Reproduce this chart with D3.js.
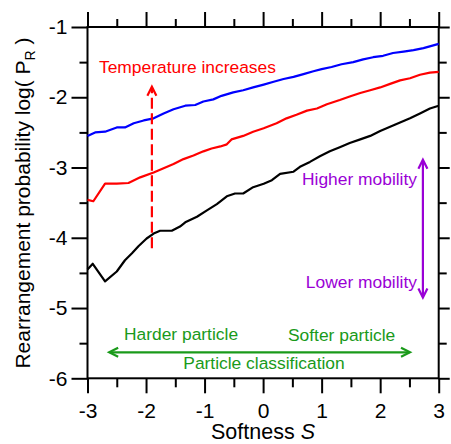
<!DOCTYPE html>
<html>
<head>
<meta charset="utf-8">
<script src="https://cdn.jsdelivr.net/npm/d3@7"></script>
<style>
  html, body { margin: 0; padding: 0; background: #fff; }
  svg { display: block; font-family: "Liberation Sans", Arial, sans-serif; }
</style>
</head>
<body>
<svg id="chart" width="451" height="444"></svg>
<script>
// ---- Data ----
const blueS   = [-3,-2.87,-2.70,-2.50,-2.36,-2.21,-2.04,-1.87,-1.70,-1.53,-1.33,-1.16,-1.02,-0.85,-0.71,-0.51,-0.34,-0.17,0.01,0.18,0.35,0.52,0.69,0.86,1.0,1.17,1.34,1.54,1.71,1.88,2.05,2.22,2.40,2.57,2.74,3.0];
const blueV   = [-2.55,-2.50,-2.49,-2.43,-2.43,-2.37,-2.33,-2.30,-2.23,-2.17,-2.12,-2.11,-2.06,-2.03,-1.98,-1.93,-1.90,-1.86,-1.82,-1.78,-1.74,-1.71,-1.67,-1.63,-1.60,-1.57,-1.53,-1.50,-1.46,-1.43,-1.41,-1.37,-1.35,-1.33,-1.30,-1.24];

const redS    = [-3,-2.90,-2.70,-2.50,-2.30,-2.10,-1.87,-1.70,-1.53,-1.36,-1.19,-1.02,-0.88,-0.73,-0.62,-0.54,-0.34,-0.17,0.01,0.23,0.40,0.57,0.75,0.92,1.09,1.31,1.48,1.66,1.83,2.0,2.17,2.34,2.51,2.68,2.85,3.0];
const redV    = [-3.46,-3.48,-3.23,-3.23,-3.22,-3.14,-3.07,-3.01,-2.95,-2.88,-2.83,-2.77,-2.73,-2.70,-2.67,-2.60,-2.55,-2.49,-2.44,-2.37,-2.30,-2.25,-2.19,-2.16,-2.10,-2.04,-1.99,-1.94,-1.90,-1.86,-1.81,-1.76,-1.73,-1.68,-1.65,-1.64];

const blackS  = [-3,-2.91,-2.70,-2.50,-2.36,-2.24,-2.13,-1.99,-1.87,-1.76,-1.56,-1.42,-1.33,-1.13,-0.96,-0.79,-0.62,-0.48,-0.34,-0.17,0.01,0.15,0.29,0.52,0.63,0.80,0.97,1.14,1.31,1.48,1.66,1.83,2.0,2.17,2.34,2.51,2.68,2.85,3.0];
const blackV  = [-4.45,-4.37,-4.62,-4.48,-4.32,-4.22,-4.12,-4.01,-3.94,-3.90,-3.90,-3.84,-3.78,-3.70,-3.61,-3.52,-3.41,-3.37,-3.37,-3.28,-3.23,-3.18,-3.09,-3.06,-2.99,-2.92,-2.84,-2.77,-2.71,-2.65,-2.60,-2.55,-2.48,-2.42,-2.36,-2.30,-2.23,-2.16,-2.12];

const xMajorTicks = [-3,-2,-1,0,1,2,3];
const xMinorTicks = [-2.5,-1.5,-0.5,0.5,1.5,2.5];
const yMajorTicks = [-6,-5,-4,-3,-2,-1];
const yMinorTicks = [-5.5,-4.5,-3.5,-2.5,-1.5];

const xTitle = "Softness";
const xTitleVar = "S";
const yTitleMain = "Rearrangement probability log( P";
const yTitleSub = "R";
const yTitleEnd = " )";

// ---- Layout ----
const svg = d3.select("#chart");
const L = 87.5, R = 438.7, T = 27, B = 378.3;
const x = d3.scaleLinear().domain([-3, 3]).range([L, R]);
const y = d3.scaleLinear().domain([-6, -1]).range([B, T]);

const colors = { blue: "#0000ff", red: "#ff0000", black: "#000000", purple: "#9a00d6", green: "#1a9a1a" };

function styleAxis(g) {
  g.select(".domain").remove();
  g.selectAll(".tick line").attr("stroke", "#000").attr("stroke-width", 2);
  g.selectAll(".tick text").attr("fill", "#000").style("font-size", "21px")
    .style("font-family", "'Liberation Sans', Arial, sans-serif");
}
const fmt = d => String(d);

// left
svg.append("g").attr("transform", `translate(${L},0)`)
  .call(d3.axisLeft(y).tickValues(yMajorTicks).tickSize(16).tickPadding(4).tickFormat(fmt)).call(styleAxis);
svg.append("g").attr("transform", `translate(${L},0)`)
  .call(d3.axisLeft(y).tickValues(yMinorTicks).tickSize(8).tickFormat("")).call(styleAxis);
// right
svg.append("g").attr("transform", `translate(${R},0)`)
  .call(d3.axisRight(y).tickValues(yMajorTicks).tickSize(11).tickFormat("")).call(styleAxis);
svg.append("g").attr("transform", `translate(${R},0)`)
  .call(d3.axisRight(y).tickValues(yMinorTicks).tickSize(8).tickFormat("")).call(styleAxis);
// bottom
svg.append("g").attr("transform", `translate(0,${B})`)
  .call(d3.axisBottom(x).tickValues(xMajorTicks).tickSize(15).tickPadding(10).tickFormat(fmt)).call(styleAxis);
svg.append("g").attr("transform", `translate(0,${B})`)
  .call(d3.axisBottom(x).tickValues(xMinorTicks).tickSize(9).tickFormat("")).call(styleAxis);
// top
svg.append("g").attr("transform", `translate(0,${T})`)
  .call(d3.axisTop(x).tickValues(xMajorTicks).tickSize(15).tickFormat("")).call(styleAxis);
svg.append("g").attr("transform", `translate(0,${T})`)
  .call(d3.axisTop(x).tickValues(xMinorTicks).tickSize(8).tickFormat("")).call(styleAxis);

// frame
svg.append("rect").attr("x", L).attr("y", T).attr("width", R - L).attr("height", B - T)
  .attr("fill", "none").attr("stroke", "#000").attr("stroke-width", 2);

// ---- Lines ----
const line = d3.line().x(d => x(d[0])).y(d => y(d[1]));
const series = [
  { s: blackS, v: blackV, c: colors.black },
  { s: redS, v: redV, c: colors.red },
  { s: blueS, v: blueV, c: colors.blue }
];
series.forEach(sr => {
  svg.append("path").datum(d3.zip(sr.s, sr.v)).attr("d", line)
    .attr("fill", "none").attr("stroke", sr.c).attr("stroke-width", 2.2)
    .attr("stroke-linejoin", "round");
});

// ---- Titles ----
const xt = svg.append("text").attr("x", 263).attr("y", 439).attr("text-anchor", "middle")
  .style("font-size", "21.5px").attr("fill", "#000");
xt.append("tspan").text(xTitle + " ");
xt.append("tspan").attr("font-style", "italic").text(xTitleVar);

const yt = svg.append("text").attr("transform", "translate(30,203) rotate(-90)")
  .attr("text-anchor", "middle").style("font-size", "21px").attr("fill", "#000");
yt.append("tspan").text(yTitleMain);
yt.append("tspan").attr("dy", 5).style("font-size", "14px").text(yTitleSub);
yt.append("tspan").attr("dy", -5).text(yTitleEnd);

// ---- Annotations ----
function chevron(g, tipX, tipY, dirX, dirY, color) {
  const len = 9, half = 4.5;
  const bx = tipX - dirX * len, by = tipY - dirY * len;
  const px = -dirY, py = dirX;
  g.append("path")
    .attr("d", `M${bx + px * half},${by + py * half}L${tipX},${tipY}L${bx - px * half},${by - py * half}`)
    .attr("fill", "none").attr("stroke", color).attr("stroke-width", 2.2)
    .attr("stroke-linejoin", "miter");
}
const ann = svg.append("g");
const annFont = "17.4px";

// Red dashed arrow
ann.append("line").attr("x1", x(-1.9)).attr("x2", x(-1.9)).attr("y1", y(-4.15)).attr("y2", y(-1.87))
  .attr("stroke", colors.red).attr("stroke-width", 2.2).attr("stroke-dasharray", "11,4.5");
chevron(ann, x(-1.9), y(-1.85), 0, -1, colors.red);
ann.append("text").attr("x", 99).attr("y", 73).style("font-size", annFont).attr("fill", colors.red)
  .text("Temperature increases");

// Purple double arrow
ann.append("line").attr("x1", x(2.73)).attr("x2", x(2.73)).attr("y1", y(-2.9)).attr("y2", y(-4.84))
  .attr("stroke", colors.purple).attr("stroke-width", 2.2);
chevron(ann, x(2.73), y(-2.89), 0, -1, colors.purple);
chevron(ann, x(2.73), y(-4.85), 0, 1, colors.purple);
ann.append("text").attr("x", 417).attr("y", 185).attr("text-anchor", "end").style("font-size", annFont)
  .attr("fill", colors.purple).text("Higher mobility");
ann.append("text").attr("x", 417).attr("y", 288).attr("text-anchor", "end").style("font-size", annFont)
  .attr("fill", colors.purple).text("Lower mobility");

// Green double arrow
ann.append("line").attr("x1", x(-2.62)).attr("x2", x(2.5)).attr("y1", y(-5.63)).attr("y2", y(-5.63))
  .attr("stroke", colors.green).attr("stroke-width", 2.2);
chevron(ann, x(-2.63), y(-5.63), -1, 0, colors.green);
chevron(ann, x(2.51), y(-5.63), 1, 0, colors.green);
ann.append("text").attr("x", 124).attr("y", 340).style("font-size", annFont).attr("fill", colors.green)
  .text("Harder particle");
ann.append("text").attr("x", 288).attr("y", 341).style("font-size", annFont).attr("fill", colors.green)
  .text("Softer particle");
ann.append("text").attr("x", 264).attr("y", 369).attr("text-anchor", "middle").style("font-size", annFont)
  .attr("fill", colors.green).text("Particle classification");
</script>
</body>
</html>
